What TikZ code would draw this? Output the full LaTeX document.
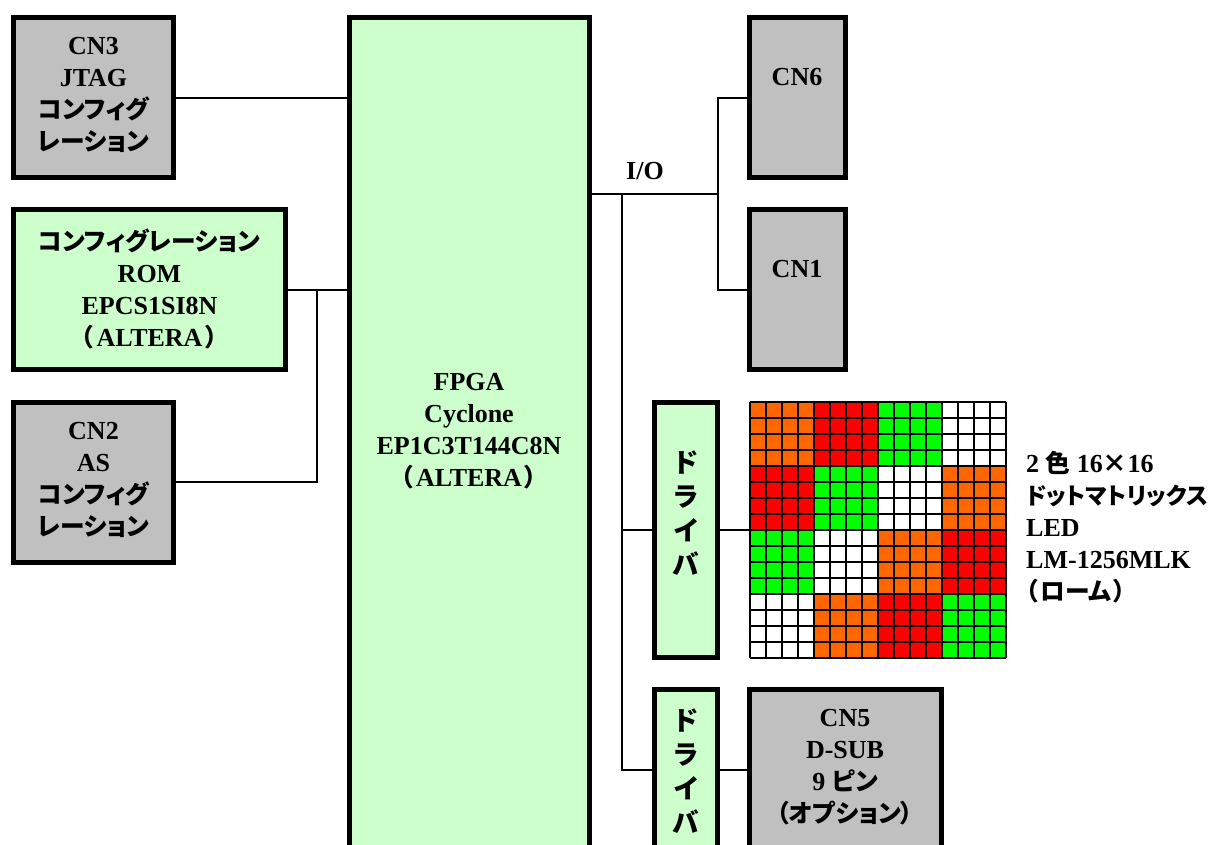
\documentclass[tikz,border=0pt]{standalone}
\usepackage{fontspec}
\setmainfont{Liberation Serif}
\newfontfamily\cjk[RawFeature=+palt,Scale=0.95]{Noto Sans CJK JP}
\newcommand{\J}[1]{{\cjk\bfseries #1}}
\newcommand{\PL}{\J{（}\kern3pt}
\newcommand{\PR}{\kern3pt\J{）}}
\tikzset{x=1pt,y=-1pt,
 lbl/.style={font=\fontsize{26}{32}\selectfont\bfseries,align=center,inner sep=0pt},
 drvlbl/.style={font=\fontsize{28}{34}\selectfont\bfseries,align=center,inner sep=0pt},
 wire/.style={draw=black,line width=1.6pt},
 cellbox/.style={draw=black,line width=1.3pt}}
\definecolor{boxgray}{HTML}{C0C0C0}
\definecolor{boxgreen}{HTML}{CCFFCC}
\definecolor{cO}{HTML}{FF6600}
\definecolor{cR}{HTML}{FF0000}
\definecolor{cG}{HTML}{00FF00}
\definecolor{cW}{HTML}{FFFFFF}
\begin{document}
\begin{tikzpicture}
\useasboundingbox (0,0) rectangle (1210,845);
\begin{scope}
\clip (0,0) rectangle (1210,845);
\newcommand{\blockat}[6]{\node[draw=black,line width=5pt,fill=#2,minimum width=#5pt,minimum height=#6pt,inner sep=0pt,anchor=center] (#1) at ({#3+#5/2},{#4+#6/2}) {};}
\blockat{cn3}{boxgray}{13.5}{17.5}{160}{160}
\blockat{rom}{boxgreen}{13.5}{209.5}{272}{160}
\blockat{cn2}{boxgray}{13.5}{402.5}{160}{160}
\blockat{fpga}{boxgreen}{349.5}{17.5}{240}{900}
\blockat{cn6}{boxgray}{749.5}{17.5}{96}{160}
\blockat{cn1}{boxgray}{749.5}{209.5}{96}{160}
\blockat{drv}{boxgreen}{654.5}{402.5}{63}{255}
\blockat{drvb}{boxgreen}{654.5}{689.5}{63}{255}
\blockat{cn5}{boxgray}{749.5}{689.5}{192}{255}
\coordinate (gridW) at (750,530);
\foreach \r/\cols in {0/{cO,cR,cG,cW},1/{cR,cG,cW,cO},2/{cG,cW,cO,cR},3/{cW,cO,cR,cG}}{
 \foreach \c [count=\i from 0] in \cols {
  \fill[\c] ({750+64*\i},{402+64*\r}) rectangle ++(64,64);
 }
}
\foreach \k in {0,...,16}{
 \draw[cellbox] ({750+16*\k},402) -- ({750+16*\k},658);
 \draw[cellbox] (750,{402+16*\k}) -- (1006,{402+16*\k});
}
\coordinate (jio) at (622,194);
\coordinate (jcn) at (718,194);
\coordinate (jrom) at (317,290);
\draw[wire] (cn3.east |- 0,98) -- (fpga.west |- 0,98);
\draw[wire] (rom.east |- 0,290) -- (fpga.west |- 0,290);
\draw[wire] (cn2.east |- 0,482) -- (317,482) -- (jrom);
\draw[wire] (fpga.east |- 0,194) -- (jcn);
\draw[wire] (cn6.west |- 0,98) -- (718,98) -- (718,290) -- (cn1.west |- 0,290);
\draw[wire] (jio) -- (622,770) -- (drvb.west |- 0,770);
\draw[wire] (622,530) -- (drv.west |- 0,530);
\draw[wire] (drv.east |- 0,530) -- (gridW);
\draw[wire] (drvb.east |- 0,770) -- (cn5.west |- 0,770);
\end{scope}
\node[lbl] (t1) at (93.5,95) {CN3\\JTAG\\\J{コンフィグ}\\\J{レーション}};
\node[lbl] (t2) at (149.5,289) {\J{コンフィグレーション}\\ROM\\EPCS1SI8N\\\PL ALTERA\PR};
\node[lbl] (t3) at (93.5,480) {CN2\\AS\\\J{コンフィグ}\\\J{レーション}};
\node[lbl] (t4) at (469,431) {FPGA\\Cyclone\\EP1C3T144C8N\\\PL ALTERA\PR};
\node[lbl] (t5) at (797,77) {CN6};
\node[lbl] (t6) at (797,269) {CN1};
\node[lbl] (io) at (645,171) {I/O};
\node[drvlbl] (t7) at (686,513) {\J{ド}\\\J{ラ}\\\J{イ}\\\J{バ}};
\begin{scope}
\clip (0,0) rectangle (1210,845);
\node[drvlbl] (t8) at (686,771) {\J{ド}\\\J{ラ}\\\J{イ}\\\J{バ}};
\end{scope}
\node[lbl] (t9) at (845,767) {CN5\\D-SUB\\9 \J{ピン}\\\J{（オプション）}};
\node[lbl,align=left,anchor=west] (t10) at (1026,527) {2 \J{色} 16\J{×}16\\{\fontsize{24.4}{32}\selectfont\J{ドットマトリックス}}\\LED\\LM-1256MLK\\\J{（}\kern2pt\J{ローム}\kern2pt\J{）}};
\end{tikzpicture}
\end{document}
